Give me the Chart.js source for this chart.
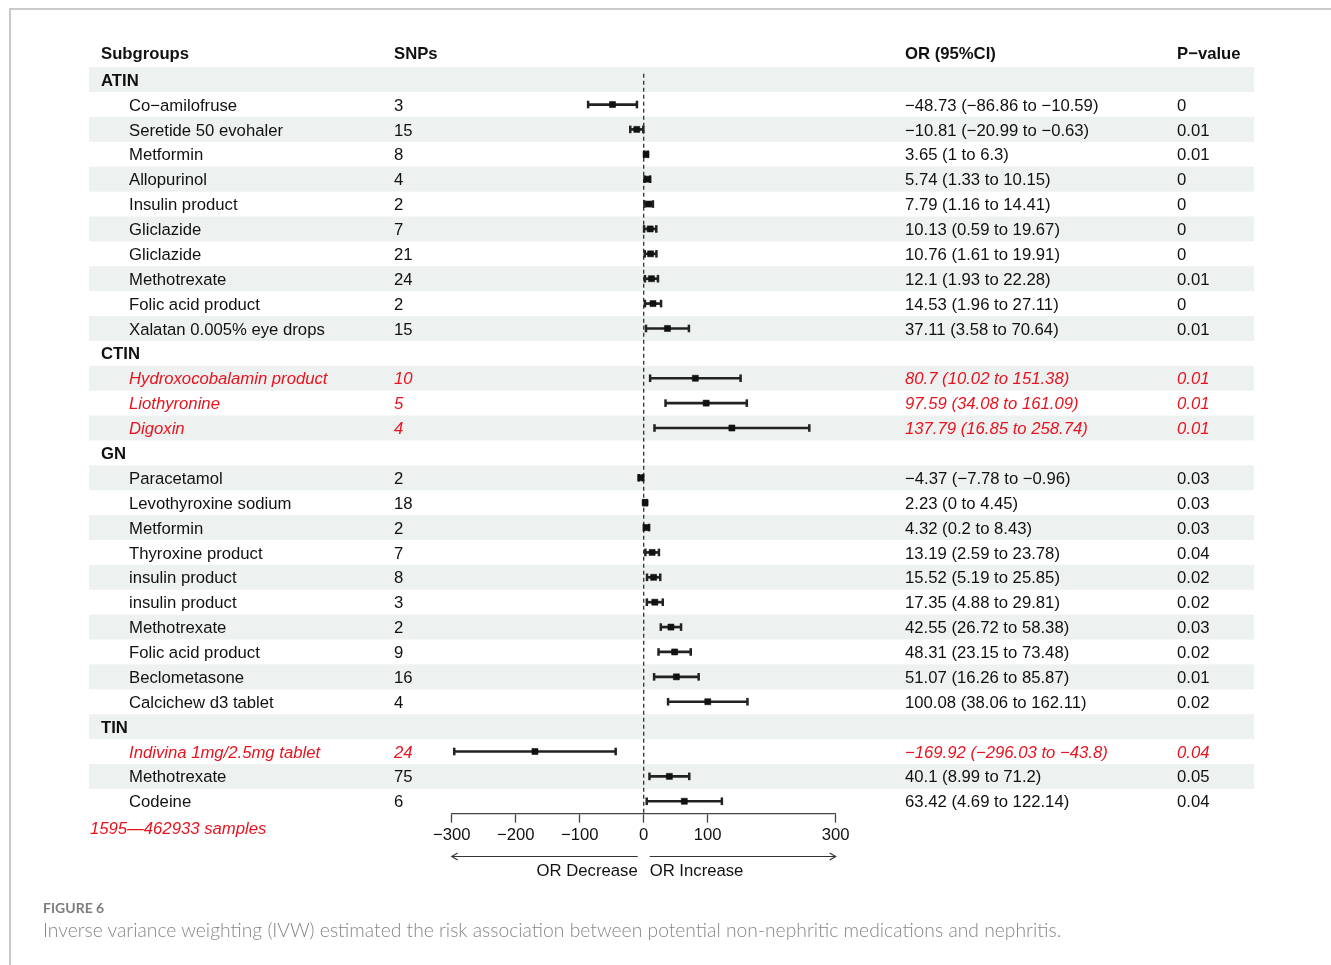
<!DOCTYPE html>
<html>
<head>
<meta charset="utf-8">
<script src="https://cdn.jsdelivr.net/npm/chart.js@4.4.1/dist/chart.umd.min.js"></script>
<style>
  html, body { margin: 0; padding: 0; background: #fff; }
  #wrap { position: relative; width: 1331px; height: 965px; overflow: hidden; }
  #frame { position: absolute; left: 9px; top: 8px; width: 1330px; height: 970px;
           border-top: 2px solid #c9c9c9; border-left: 2px solid #c9c9c9; box-sizing: border-box; }
  canvas { position: absolute; left: 0; top: 0; }
  #figlab { position: absolute; left: 43px; top: 899px; font-family: Lato, "Open Sans", sans-serif;
            font-weight: 700; font-size: 14px; color: #7d7d7d; }
  #figcap { position: absolute; left: 43px; top: 918px; font-family: Lato, "Open Sans", sans-serif;
            font-weight: 300; font-size: 19.3px; color: #868686; white-space: nowrap; }
</style>
</head>
<body>
<div id="wrap">
  <div id="frame"></div>
  <canvas id="c" width="1331" height="965"></canvas>
  <div id="figlab">FIGURE 6</div>
  <div id="figcap">Inverse variance weighting (IVW) estimated the risk association between potential non-nephritic medications and nephritis.</div>
</div>
<script>
// ---------- DATA ----------
const groupNames = ["ATIN", "CTIN", "GN", "TIN"];
const groupSizes = [10, 3, 10, 3];
const drugNames = [
  "Co\u2212amilofruse", "Seretide 50 evohaler", "Metformin", "Allopurinol", "Insulin product",
  "Gliclazide", "Gliclazide", "Methotrexate", "Folic acid product", "Xalatan 0.005% eye drops",
  "Hydroxocobalamin product", "Liothyronine", "Digoxin",
  "Paracetamol", "Levothyroxine sodium", "Metformin", "Thyroxine product", "insulin product",
  "insulin product", "Methotrexate", "Folic acid product", "Beclometasone", "Calcichew d3 tablet",
  "Indivina 1mg/2.5mg tablet", "Methotrexate", "Codeine"
];
const snps = [3, 15, 8, 4, 2, 7, 21, 24, 2, 15, 10, 5, 4, 2, 18, 2, 7, 8, 3, 2, 9, 16, 4, 24, 75, 6];
const orValues = [-48.73, -10.81, 3.65, 5.74, 7.79, 10.13, 10.76, 12.1, 14.53, 37.11,
  80.7, 97.59, 137.79,
  -4.37, 2.23, 4.32, 13.19, 15.52, 17.35, 42.55, 48.31, 51.07, 100.08,
  -169.92, 40.1, 63.42];
const ciLower = [-86.86, -20.99, 1, 1.33, 1.16, 0.59, 1.61, 1.93, 1.96, 3.58,
  10.02, 34.08, 16.85,
  -7.78, 0, 0.2, 2.59, 5.19, 4.88, 26.72, 23.15, 16.26, 38.06,
  -296.03, 8.99, 4.69];
const ciUpper = [-10.59, -0.63, 6.3, 10.15, 14.41, 19.67, 19.91, 22.28, 27.11, 70.64,
  151.38, 161.09, 258.74,
  -0.96, 4.45, 8.43, 23.78, 25.85, 29.81, 58.38, 73.48, 85.87, 162.11,
  -43.8, 71.2, 122.14];
const pValues = ["0", "0.01", "0.01", "0", "0", "0", "0", "0.01", "0", "0.01",
  "0.01", "0.01", "0.01",
  "0.03", "0.03", "0.03", "0.04", "0.02", "0.02", "0.03", "0.02", "0.01", "0.02",
  "0.04", "0.05", "0.04"];
const highlighted = [false, false, false, false, false, false, false, false, false, false,
  true, true, true,
  false, false, false, false, false, false, false, false, false, false,
  true, false, false];
const xTicks = [-300, -200, -100, 0, 100, 300];
const headers = ["Subgroups", "SNPs", "OR (95%CI)", "P\u2212value"];
const footnote = "1595\u2014462933 samples";
const arrowLabels = ["OR Decrease", "OR Increase"];

// ---------- BUILD ROWS ----------
const rows = [];
let k = 0;
groupNames.forEach((g, gi) => {
  rows.push({ type: "group", label: g });
  for (let j = 0; j < groupSizes[gi]; j++, k++) rows.push({ type: "item", idx: k });
});
const fmt = v => String(v).replace("-", "\u2212");

const ciDatasets = [];
const centers = [];
rows.forEach((r, ri) => {
  if (r.type !== "item") return;
  const i = r.idx;
  ciDatasets.push({
    data: [{ x: ciLower[i], y: ri }, { x: ciUpper[i], y: ri }],
    showLine: true, borderColor: "#222", borderWidth: 2.7,
    pointStyle: "line", rotation: 90, pointRadius: 3.8, pointBorderWidth: 2.5,
    pointBorderColor: "#222", pointBackgroundColor: "#222", clip: false, order: 2
  });
  centers.push({ x: orValues[i], y: ri });
});

const RED = "#e8131f";
const FONT = '"Liberation Sans", Arial, Helvetica, sans-serif';
const FS = 16.7;
const TY = 1.5; // text baseline nudge

const tablePlugin = {
  id: "tablePlugin",
  beforeDatasetsDraw(chart) {
    const ctx = chart.ctx, ys = chart.scales.y;
    ctx.save();
    ctx.fillStyle = "#edf1f0";
    const step = Math.abs(ys.getPixelForValue(1) - ys.getPixelForValue(0));
    rows.forEach((r, ri) => {
      if (ri % 2 === 0) {
        const yc = ys.getPixelForValue(ri);
        ctx.fillRect(89, yc - step / 2, 1254 - 89, step);
      }
    });
    ctx.restore();
  },
  afterDraw(chart) {
    const ctx = chart.ctx, ys = chart.scales.y, xs = chart.scales.x;
    ctx.save();
    ctx.textBaseline = "middle";
    ctx.textAlign = "left";
    const hy = ys.getPixelForValue(-1.08) + TY;
    ctx.fillStyle = "#111";
    ctx.font = "bold " + FS + "px " + FONT;
    ctx.fillText(headers[0], 101, hy);
    ctx.fillText(headers[1], 394, hy);
    ctx.fillText(headers[2], 905, hy);
    ctx.fillText(headers[3], 1177, hy);
    rows.forEach((r, ri) => {
      const y = ys.getPixelForValue(ri) + TY;
      if (r.type === "group") {
        ctx.fillStyle = "#111";
        ctx.font = "bold " + FS + "px " + FONT;
        ctx.fillText(r.label, 101, y);
      } else {
        const i = r.idx;
        const red = highlighted[i];
        ctx.fillStyle = red ? RED : "#111";
        ctx.font = (red ? "italic " : "") + FS + "px " + FONT;
        ctx.fillText(drugNames[i], 129, y);
        ctx.fillText(String(snps[i]), 394, y);
        ctx.fillText(fmt(orValues[i]) + " (" + fmt(ciLower[i]) + " to " + fmt(ciUpper[i]) + ")", 905, y);
        ctx.fillText(pValues[i], 1177, y);
      }
    });
    // footnote
    ctx.fillStyle = RED;
    ctx.font = "italic " + FS + "px " + FONT;
    ctx.fillText(footnote, 90, 828 + TY);
    // arrows
    const x0 = xs.getPixelForValue(0);
    const xl = xs.getPixelForValue(-300), xr = xs.getPixelForValue(300);
    const ay = 856.5;
    ctx.strokeStyle = "#333";
    ctx.lineWidth = 1.1;
    ctx.beginPath();
    ctx.moveTo(x0 - 6, ay); ctx.lineTo(xl, ay);
    ctx.moveTo(xl + 6, ay - 3.5); ctx.lineTo(xl, ay); ctx.lineTo(xl + 6, ay + 3.5);
    ctx.moveTo(x0 + 6, ay); ctx.lineTo(xr, ay);
    ctx.moveTo(xr - 6, ay - 3.5); ctx.lineTo(xr, ay); ctx.lineTo(xr - 6, ay + 3.5);
    ctx.stroke();
    ctx.fillStyle = "#111";
    ctx.font = FS + "px " + FONT;
    ctx.textAlign = "right";
    ctx.fillText(arrowLabels[0], x0 - 6, 870 + TY);
    ctx.textAlign = "left";
    ctx.fillText(arrowLabels[1], x0 + 6, 870 + TY);
    ctx.restore();
  }
};

new Chart(document.getElementById("c"), {
  type: "scatter",
  data: {
    datasets: [
      {
        data: [{ x: 0, y: -0.24 }, { x: 0, y: 29.5 }],
        showLine: true, borderColor: "#333", borderWidth: 1.3, borderDash: [4, 3],
        pointRadius: 0, clip: false, order: 3
      },
      ...ciDatasets,
      {
        data: centers, pointStyle: "rect", pointRadius: 4.3, pointBorderWidth: 0.5,
        pointBackgroundColor: "#111", pointBorderColor: "#111", backgroundColor: "#111",
        borderColor: "#111", clip: false, order: 1
      }
    ]
  },
  options: {
    responsive: false,
    animation: false,
    events: [],
    layout: { padding: { left: 451.7, right: 495.3, top: 67.2, bottom: 111.3 } },
    plugins: { legend: { display: false }, tooltip: { enabled: false }, title: { display: false } },
    scales: {
      x: {
        type: "linear", min: -300, max: 300,
        afterBuildTicks: s => { s.ticks = xTicks.map(v => ({ value: v })); },
        afterFit: s => { s.height = 40; },
        border: { display: true, color: "#444", width: 1.3 },
        grid: { drawOnChartArea: false, drawTicks: true, tickLength: 9, color: "#444", tickWidth: 1.3 },
        ticks: {
          color: "#111", padding: 3,
          font: { family: FONT, size: FS },
          callback: v => fmt(v), maxRotation: 0, autoSkip: false
        }
      },
      y: {
        type: "linear", min: -0.5, max: 29.5, reverse: true, display: false
      }
    }
  },
  plugins: [tablePlugin]
});
</script>
</body>
</html>
